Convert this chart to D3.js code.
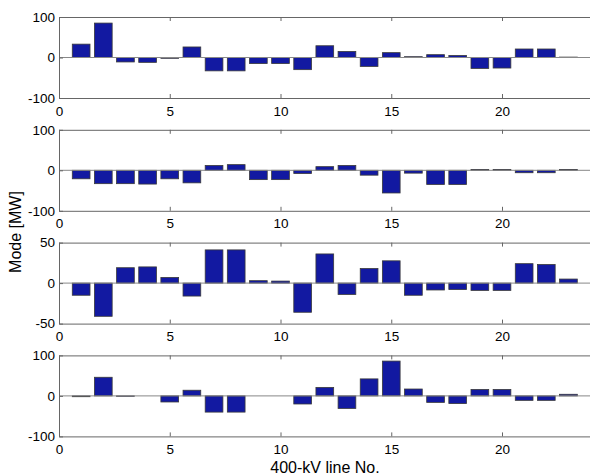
<!DOCTYPE html>
<html>
<head>
<meta charset="utf-8">
<script src="https://cdn.jsdelivr.net/npm/d3@7"></script>
<style>
  html, body { margin: 0; padding: 0; background: #fff; }
  svg { display: block; font-family: "Liberation Sans", Arial, sans-serif; }
</style>
</head>
<body>
<svg id="chart" width="590" height="475"></svg>
<script>
// 400-kV line numbers (x positions of the bars)
const lineNo = d3.range(1, 24);

// Mode values [MW] per line, one array per mode panel
const mode1 = [33, 85, -11, -12, -2, 26, -33, -33, -15, -15, -30, 29, 15, -22, 12, 2, 7, 5, -27, -26, 21, 21, 1];
const mode2 = [-21, -33, -33, -34, -21, -31, 12, 14, -23, -23, -8, 9, 12, -12, -56, -7, -35, -35, 2, 2, -6, -6, 2];
const mode3 = [-15, -41, 19, 20, 7, -16, 41, 41, 3, 2.5, -36, 36, -14, 18, 27.5, -15, -8.5, -8, -9, -9, 24, 23, 5];
const mode4 = [-2, 46, -1, 0, -15, 14, -40, -40, 0, 0, -20, 21, -31, 42, 86, 17, -16, -19, 16, 16, -11, -11, 4];

const modes = [mode1, mode2, mode3, mode4];
const yDomains = [[-100, 100], [-100, 100], [-50, 50], [-100, 100]];
const yTicks = [[-100, 0, 100], [-100, 0, 100], [-50, 0, 50], [-100, 0, 100]];
const xDomain = [0, 24];
const xTicks = [0, 5, 10, 15, 20];

const yLabel = "Mode [MW]";
const xLabel = "400-kV line No.";

const svg = d3.select("#chart");
const left = 59, plotW = 22.15 * 24; // right end runs to the page edge
const plotH = 81, firstTop = 17, step = 112.8;

const barColor = "#1219a1";
const axisColor = "#666";
const tickFont = 13.5;

const x = d3.scaleLinear().domain(xDomain).range([left, left + plotW]);
const plain = d => String(d); // hyphen-minus, as in the tick labels

modes.forEach((vals, i) => {
  const top = firstTop + i * step;
  const y = d3.scaleLinear().domain(yDomains[i]).range([top + plotH, top]);
  const g = svg.append("g");

  // bars, width 0.8 of a line slot
  g.selectAll("rect").data(vals).enter().append("rect")
    .attr("x", (d, j) => x(lineNo[j] - 0.4))
    .attr("width", x(0.8) - x(0))
    .attr("y", d => Math.min(y(d), y(0)))
    .attr("height", d => Math.abs(y(d) - y(0)))
    .attr("fill", barColor)
    .attr("stroke", "#3a3a3a")
    .attr("stroke-width", 0.8);

  // baseline
  g.append("line")
    .attr("x1", x(xDomain[0])).attr("x2", x(xDomain[1]))
    .attr("y1", y(0)).attr("y2", y(0))
    .attr("stroke", "#888").attr("stroke-width", 1);

  // box: bottom axis with ticks pointing inward
  const xb = g.append("g").attr("transform", `translate(0,${top + plotH})`)
    .call(d3.axisBottom(x).tickValues(xTicks).tickSizeInner(-4).tickSizeOuter(0).tickPadding(8).tickFormat(plain));
  // top border with inward ticks, no labels
  const xt = g.append("g").attr("transform", `translate(0,${top})`)
    .call(d3.axisTop(x).tickValues(xTicks).tickSizeInner(-4).tickSizeOuter(0).tickFormat(""));
  // left axis
  const yl = g.append("g").attr("transform", `translate(${left},0)`)
    .call(d3.axisLeft(y).tickValues(yTicks[i]).tickSizeInner(-4).tickSizeOuter(0).tickPadding(4).tickFormat(plain));

  [xb, xt, yl].forEach(a => {
    a.select(".domain").attr("stroke", axisColor).attr("stroke-width", 1);
    a.selectAll(".tick line").attr("stroke", axisColor);
    a.selectAll(".tick text").attr("fill", "#000").attr("font-size", tickFont)
      .attr("font-family", "Liberation Sans, Arial, sans-serif");
  });
});

// axis titles
svg.append("text")
  .attr("transform", "translate(21,232) rotate(-90)")
  .attr("text-anchor", "middle")
  .attr("font-size", 16)
  .text(yLabel);

svg.append("text")
  .attr("x", 325).attr("y", 473)
  .attr("text-anchor", "middle")
  .attr("font-size", 16)
  .text(xLabel);
</script>
</body>
</html>
